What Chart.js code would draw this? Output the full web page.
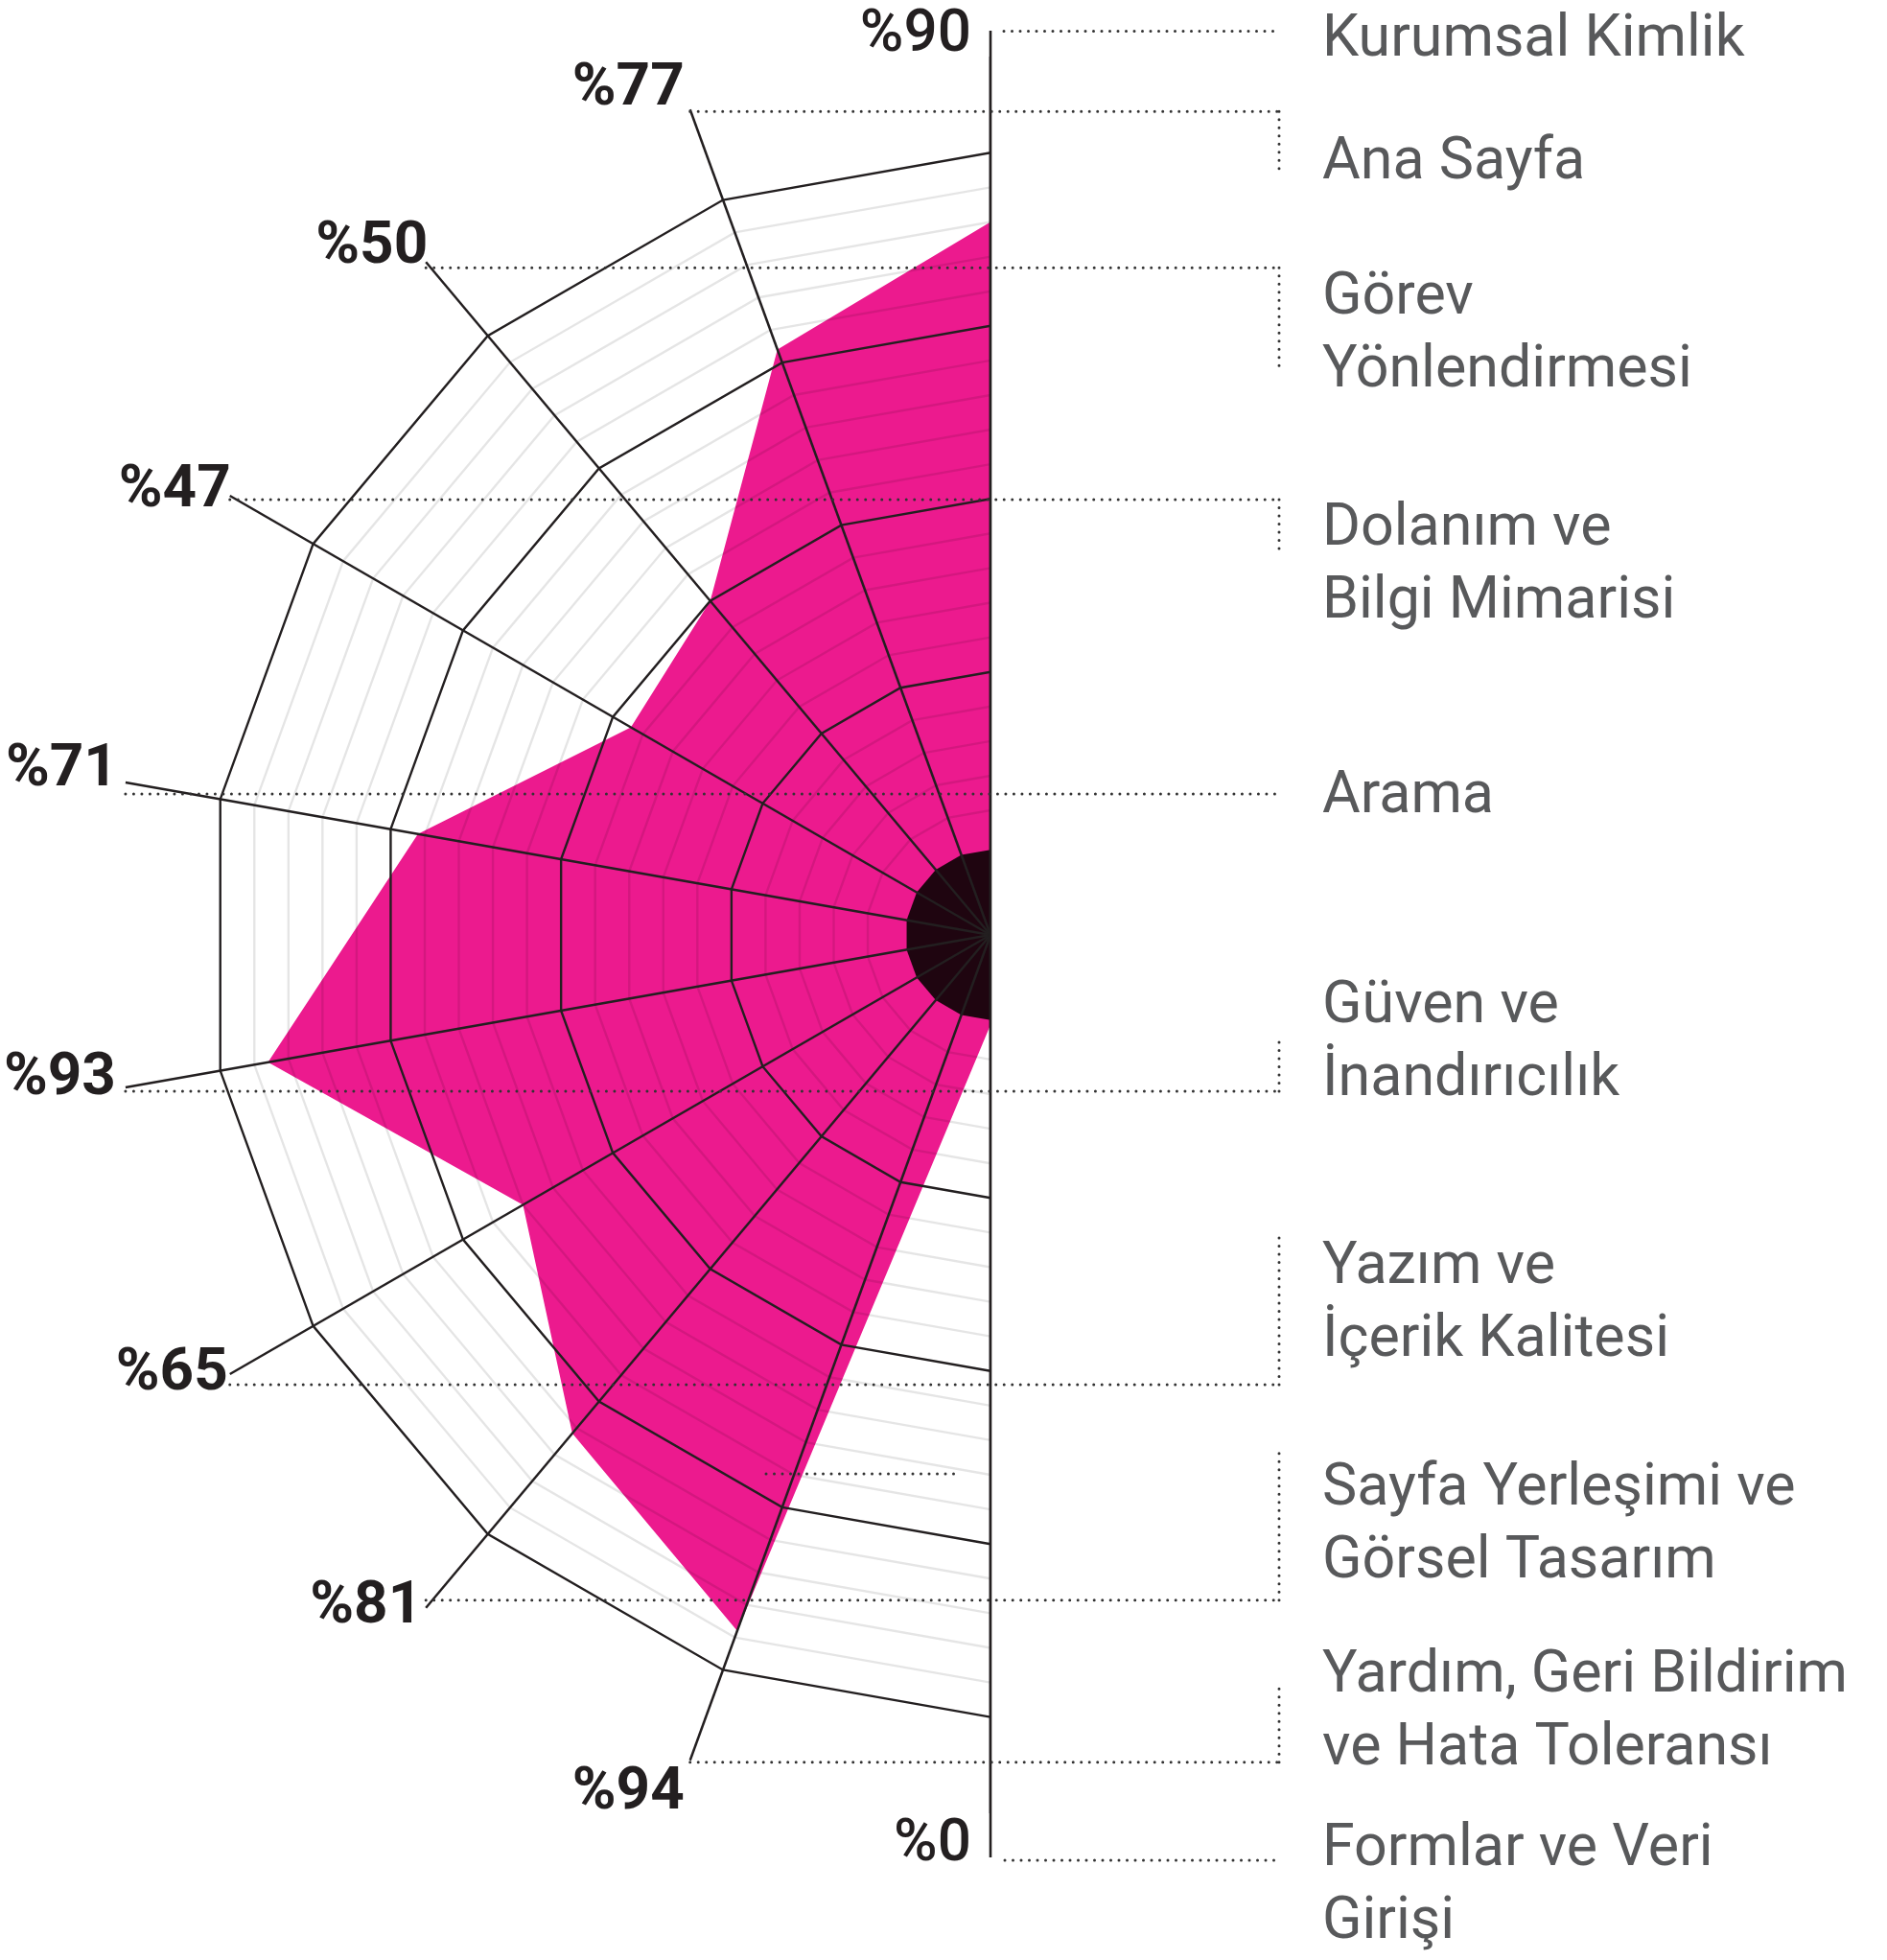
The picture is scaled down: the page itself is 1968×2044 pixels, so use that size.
<!DOCTYPE html>
<html>
<head>
<meta charset="utf-8">
<script src="https://cdn.jsdelivr.net/npm/chart.js@4.4.1/dist/chart.umd.min.js"></script>
<style>
html,body{margin:0;padding:0;background:#ffffff;}
#wrap{width:1968px;height:2044px;position:relative;}
</style>
</head>
<body>
<div id="wrap"><canvas id="c"></canvas></div>
<script>
// ---------- DATA (top of the half-radar to its bottom) ----------
const categories = [
  ['Kurumsal Kimlik'],
  ['Ana Sayfa'],
  ['Görev', 'Yönlendirmesi'],
  ['Dolanım ve', 'Bilgi Mimarisi'],
  ['Arama'],
  ['Güven ve', 'İnandırıcılık'],
  ['Yazım ve', 'İçerik Kalitesi'],
  ['Sayfa Yerleşimi ve', 'Görsel Tasarım'],
  ['Yardım, Geri Bildirim', 've Hata Toleransı'],
  ['Formlar ve Veri', 'Girişi']
];
const scores = [90, 77, 50, 47, 71, 93, 65, 81, 94, 0];
const gridValues = [0, 5, 10, 15, 20, 25, 30, 35, 40, 45, 50, 55, 60, 65, 70, 75, 80, 85, 90, 95, 100];
const majorValues = [25, 50, 75, 100];
const hiddenSlots = 8; // right half of the radar, not shown

// ---------- STYLE / LAYOUT ----------
const INK = '#231f20';
const GREY_TEXT = '#58595b';
const MAGENTA = '#ec1a8e';
const CORE = '#1f0510';
const DOT = '#333333';
const SCALE_MIN = -13, SCALE_MAX = 113.9, CORE_VALUE = -0.7;
const L = {
  vTopExt: 27, vBotExt: 46,
  bracketX: 1334,
  catX: 1379,
  catBaselines: [58, 186, 327, 568, 847, 1066, 1338, 1569, 1764, 1945],
  catLineH: 75.5,
  leaderDy: [0, 2, 6, 4, 12, 4, 11, -8, 2, 0],
  labelDx: [0, -6, 2, 1, -8, -10, -2, -4, -6, 0],
  labelDy: [0, -5, 1, 11, 3, 7, 16, 15, 50, 0],
  bracketEnd: [null, 176, 388, 577, null, 1079, 1290, 1509, 1757, null],
  stray: [799, 1537, 999]
};

// radar order: start at bottom and go clockwise (bottom -> left -> top)
const radarLabels = categories.slice().reverse().map(c => c.join(' ')).concat(Array(hiddenSlots).fill(''));
const radarData = scores.slice().reverse().concat(Array(hiddenSlots).fill(0));

function dots(ctx, x1, y1, x2, y2) {
  ctx.save();
  ctx.setLineDash([0, 8.5]);
  ctx.lineCap = 'round';
  ctx.lineWidth = 3;
  ctx.strokeStyle = DOT;
  ctx.beginPath();
  ctx.moveTo(x1, y1);
  ctx.lineTo(x2, y2);
  ctx.stroke();
  ctx.restore();
}

const halfRadar = {
  id: 'halfRadar',
  beforeDraw(chart) {
    const s = chart.scales.r, ctx = chart.ctx;
    ctx.save();
    ctx.beginPath();
    ctx.rect(0, 0, s.xCenter + 0.5, chart.height);
    ctx.clip();
  },
  afterDatasetsDraw(chart) {
    const s = chart.scales.r, ctx = chart.ctx;
    const n = chart.data.labels.length;
    ctx.save();
    ctx.beginPath();
    for (let i = 0; i < n; i++) {
      const p = s.getPointPositionForValue(i, CORE_VALUE);
      if (i === 0) ctx.moveTo(p.x, p.y); else ctx.lineTo(p.x, p.y);
    }
    ctx.closePath();
    ctx.fillStyle = CORE;
    ctx.fill();
    ctx.restore();
  },
  afterDraw(chart) {
    const ctx = chart.ctx;
    ctx.restore();
    const s = chart.scales.r;
    const cx = s.xCenter, cy = s.yCenter, R = s.drawingArea;
    const yTop = cy - (R + L.vTopExt), yBot = cy + (R + L.vBotExt);
    const last = categories.length - 1;

    // vertical axis
    ctx.save();
    ctx.strokeStyle = INK;
    ctx.lineWidth = 2.6;
    ctx.beginPath();
    ctx.moveTo(cx, yTop);
    ctx.lineTo(cx, yBot);
    ctx.stroke();
    ctx.restore();

    // text scale for condensed category font
    ctx.font = '400 62px Roboto';
    const sx = 548 / ctx.measureText('Yardım, Geri Bildirim').width;

    categories.forEach((lines, i) => {
      const idx = last - i;
      let lx, ly, tx, ty, weight;
      if (i === 0) {
        lx = cx + 14; ly = yTop + 0.5; tx = cx - 20; ty = yTop + 20.5; weight = 500;
      } else if (i === last) {
        lx = cx + 15; ly = yBot + 3; tx = cx - 20; ty = yBot + 2.5; weight = 500;
      } else {
        const e = s.getPointPosition(idx, R);
        lx = e.x; ly = e.y + L.leaderDy[i];
        tx = e.x + L.labelDx[i]; ty = e.y + L.labelDy[i]; weight = 700;
      }
      dots(ctx, lx, ly, L.bracketX, ly);
      if (L.bracketEnd[i] !== null) dots(ctx, L.bracketX, ly, L.bracketX, L.bracketEnd[i]);

      ctx.save();
      ctx.font = weight + ' 62px Roboto';
      ctx.textAlign = 'right';
      ctx.textBaseline = 'alphabetic';
      ctx.fillStyle = INK;
      ctx.fillText('%' + scores[i], tx, ty);
      ctx.restore();

      lines.forEach((line, k) => {
        ctx.save();
        ctx.translate(L.catX, L.catBaselines[i] + k * L.catLineH);
        ctx.scale(sx, 1);
        ctx.font = '400 62px Roboto';
        ctx.textAlign = 'left';
        ctx.textBaseline = 'alphabetic';
        ctx.fillStyle = GREY_TEXT;
        ctx.fillText(line, 0, 0);
        ctx.restore();
      });
    });

    dots(ctx, L.stray[0], L.stray[1], L.stray[2], L.stray[1]);
  }
};

new Chart(document.getElementById('c'), {
  type: 'radar',
  data: {
    labels: radarLabels,
    datasets: [{
      data: radarData,
      backgroundColor: MAGENTA,
      borderColor: 'rgba(0,0,0,0)',
      borderWidth: 0,
      pointRadius: 0,
      pointHoverRadius: 0,
      fill: 'start',
      tension: 0
    }]
  },
  options: {
    responsive: true,
    maintainAspectRatio: false,
    animation: false,
    events: [],
    layout: { padding: { left: 117, right: 19, top: 59, bottom: 153 } },
    plugins: { legend: { display: false }, tooltip: { enabled: false } },
    scales: {
      r: {
        min: SCALE_MIN,
        max: SCALE_MAX,
        startAngle: 180,
        afterBuildTicks: (axis) => { axis.ticks = gridValues.map(v => ({ value: v })); },
        ticks: { display: false },
        pointLabels: { display: false },
        grid: {
          z: 1,
          lineWidth: 2.4,
          color: (c) => {
            const v = c.tick ? c.tick.value : null;
            if (v === 0) return 'rgba(0,0,0,0)';
            return majorValues.includes(v) ? INK : 'rgba(0,0,0,0.1)';
          }
        },
        angleLines: { display: true, color: INK, lineWidth: 2.5 }
      }
    }
  },
  plugins: [halfRadar]
});
</script>
</body>
</html>
